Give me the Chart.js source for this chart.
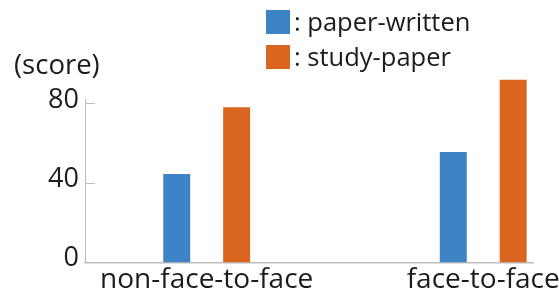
<!DOCTYPE html>
<html>
<head>
<meta charset="utf-8">
<script src="https://cdn.jsdelivr.net/npm/chart.js@4"></script>
<style>
  html, body { margin: 0; padding: 0; background: #fff; }
  #wrap { position: relative; width: 559px; height: 295px; font-family: 'Open Sans', sans-serif; color: #1c1c1c; }
  #chart { position: absolute; left: 0; top: 0; }
  #unit { position: absolute; left: 14px; top: 50px; font-size: 27.5px; line-height: 1; }
  #legend { position: absolute; left: 266px; top: 4.5px; font-size: 25.5px; line-height: 1; }
  .row { display: flex; align-items: center; height: 35px; white-space: nowrap; }
  .sw { width: 24px; height: 24px; margin-right: 4px; }
</style>
</head>
<body>
<div id="wrap">
  <canvas id="chart" width="559" height="295"></canvas>
  <div id="unit">(score)</div>
  <div id="legend"></div>
</div>
<script>
// data
const categories = ['non-face-to-face', 'face-to-face'];
const paperWritten = [44.7, 55.8];
const studyPaper = [78.3, 92.2];
const yTicks = [0, 40, 80];

const BLUE = '#3d84c6';
const ORANGE = '#da6620';
const AXIS = '#bdbdbd';
const TXT = '#1c1c1c';
const tickFont = { family: "'Open Sans', sans-serif", size: 27 };
const catFont = { family: "'Open Sans', sans-serif", size: 28 };

const chart = new Chart(document.getElementById('chart'), {
    type: 'bar',
    data: {
        datasets: [
            {
                label: ': paper-written',
                data: categories.map((c, i) => ({ x: i, y: paperWritten[i] })),
                backgroundColor: BLUE,
                clip: false
            },
            {
                label: ': study-paper',
                data: categories.map((c, i) => ({ x: i, y: studyPaper[i] })),
                backgroundColor: ORANGE,
                clip: false
            }
        ]
    },
    options: {
        responsive: false,
        animation: false,
        layout: { padding: { top: 99, right: 26, left: 0, bottom: 0 } },
        datasets: { bar: { categoryPercentage: 0.4332, barPercentage: 0.45 } },
        plugins: { legend: { display: false }, tooltip: { enabled: false } },
        scales: {
            x: {
                type: 'linear',
                offset: false,
                min: -0.44,
                max: 1.18,
                afterBuildTicks: s => { s.ticks = categories.map((c, i) => ({ value: i })); },
                afterFit: s => { s.height = 31; s.paddingLeft = 0; s.paddingRight = 0; },
                ticks: { callback: v => categories[v], font: catFont, color: TXT, padding: 0, maxRotation: 0, autoSkip: false },
                grid: { display: false, drawTicks: false },
                border: { color: AXIS, width: 1.5 }
            },
            y: {
                min: 0,
                max: 82.5,
                afterBuildTicks: s => { s.ticks = yTicks.map(v => ({ value: v })); },
                afterFit: s => { s.width = 85; },
                ticks: { font: tickFont, color: TXT, padding: 16, labelOffset: -4 },
                grid: { drawOnChartArea: false, tickLength: -10, color: AXIS },
                border: { color: AXIS, width: 1 }
            }
        }
    }
});

// legend (html)
const legendEl = document.getElementById('legend');
chart.data.datasets.forEach(ds => {
    const row = document.createElement('div');
    row.className = 'row';
    const sw = document.createElement('span');
    sw.className = 'sw';
    sw.style.background = ds.backgroundColor;
    const txt = document.createElement('span');
    txt.textContent = ds.label;
    row.appendChild(sw);
    row.appendChild(txt);
    legendEl.appendChild(row);
});
</script>
</body>
</html>
